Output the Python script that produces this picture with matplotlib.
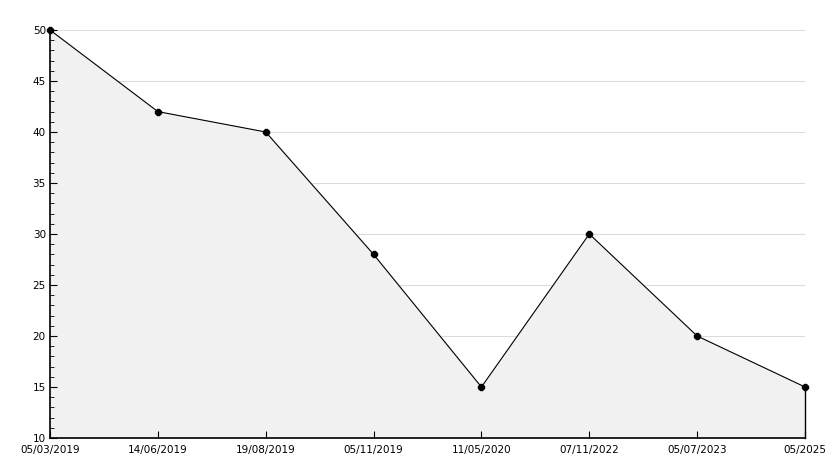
import matplotlib
matplotlib.use('Agg')
from matplotlib import pyplot as plt
from matplotlib.ticker import MultipleLocator

dates = ['05/03/2019', '14/06/2019', '19/08/2019', '05/11/2019',
         '11/05/2020', '07/11/2022', '05/07/2023', '05/2025']
values = [50, 42, 40, 28, 15, 30, 20, 15]
y_min = 10

plt.rcParams['font.family'] = ['DejaVu Sans']
fig = plt.figure(figsize=(8.34, 4.68), dpi=100)
ax = fig.add_axes([50 / 834, 1 - 438 / 468, 755 / 834, 408 / 468])

x = list(range(len(values)))
# grid lines under the filled area
for yv in range(15, 51, 5):
    ax.axhline(yv, color='#dcdcdc', linewidth=0.8, zorder=0.5)
ax.fill_between(x, values, y_min, color='#f1f1f1', zorder=1)
# closing edge of the area on the right
ax.plot([x[-1], x[-1]], [values[-1], y_min], color='black', linewidth=1.0,
        zorder=2.8, clip_on=False)
ax.plot(x, values, color='black', linewidth=0.8, marker='8', markersize=4.5,
        zorder=3, clip_on=False)

ax.set_xlim(0, len(values) - 1)
ax.set_ylim(y_min, 50)
ax.set_xticks(x)
ax.set_xticklabels(dates)
ax.yaxis.set_major_locator(MultipleLocator(5))
ax.yaxis.set_minor_locator(MultipleLocator(1))
ax.set_axisbelow(False)

for s in ['top', 'right']:
    ax.spines[s].set_visible(False)
ax.spines['left'].set_linewidth(1.2)
ax.spines['bottom'].set_linewidth(1.2)

ax.tick_params(axis='both', which='major', direction='in', length=5, labelsize=7.5, pad=3)
ax.tick_params(axis='y', which='minor', direction='in', length=3)
ax.tick_params(axis='x', which='major', pad=5)

plt.savefig('out.png', dpi=100)
